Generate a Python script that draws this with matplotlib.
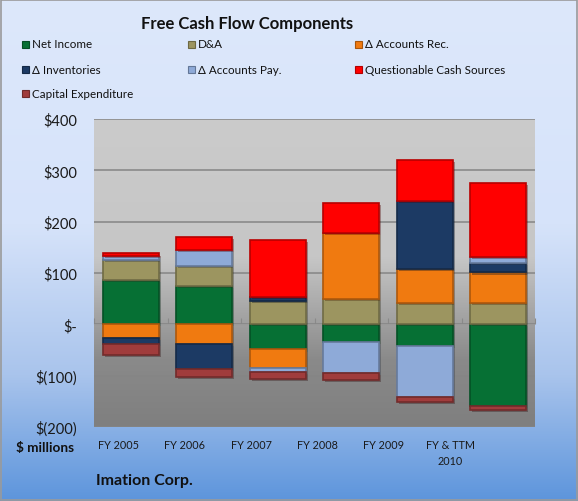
import numpy as np
import matplotlib
matplotlib.use("Agg")
import matplotlib.pyplot as plt
from matplotlib.colors import LinearSegmentedColormap, to_rgb
from matplotlib.patches import Rectangle
import matplotlib.patheffects as pe

plt.rcParams['font.family'] = ['Lato', 'DejaVu Sans']

# data ($ millions)
years = ["FY 2005", "FY 2006", "FY 2007", "FY 2008", "FY 2009", "FY & TTM\n2010"]
series = ["Net Income", "D&A", "\u0394 Accounts Rec.", "\u0394 Inventories",
          "\u0394 Accounts Pay.", "Questionable Cash Sources", "Capital Expenditure"]
net_income = [86, 75, -49, -34, -42, -159]
dna = [39, 39, 46, 49, 42, 42]
accounts_rec = [-26, -38, -36, 129, 66, 59]
inventories = [-12, -49, 7, 0, 133, 18]
accounts_pay = [9, 31, -8, -60, -99, 13]
questionable = [4, 25, 111, 59, 79, 143]
capex = [-22, -16, -14, -14, -10, -8]
colors = ["#067034", "#9c9560", "#f07a10", "#1c3a64", "#8eaad8", "#ff0000", "#a03c3c"]

values = [net_income, dna, accounts_rec, inventories, accounts_pay, questionable, capex]

fig = plt.figure(figsize=(5.78, 5.02), dpi=100)

# figure background gradient
bg = fig.add_axes([0, 0, 1, 1], zorder=-10)
bg_cmap = LinearSegmentedColormap.from_list(
    "bg", [(0, "#dde8fb"), (0.45, "#d6e3fa"), (0.75, "#a9c4ec"), (1, "#5d95dc")])
bg.imshow(np.linspace(0, 1, 256).reshape(-1, 1), aspect="auto", cmap=bg_cmap,
          extent=[0, 1, 0, 1])
bg.set_axis_off()
fig.patches.append(Rectangle((0.002, 0.002), 0.996, 0.996, transform=fig.transFigure,
                             fill=False, edgecolor="#9a9a9a", linewidth=1.2))

ax = fig.add_axes([94 / 578, 1 - 428 / 502, 441 / 578, 308 / 502])
plot_cmap = LinearSegmentedColormap.from_list(
    "plot", [(0, "#cbcbcb"), (0.45, "#c6c6c6"), (0.78, "#8a8a8a"), (1, "#7f7f7f")])
ax.imshow(np.linspace(0, 1, 256).reshape(-1, 1), aspect="auto", cmap=plot_cmap,
          extent=[0, 1, 0, 1], transform=ax.transAxes, zorder=0)

x = np.arange(len(years))
pos_bottom = np.zeros(len(years))
neg_bottom = np.zeros(len(years))
shadow = [pe.SimplePatchShadow(offset=(1.5, -1.5), alpha=0.35), pe.Normal()]
for name, vals, c in zip(series, values, colors):
    vals = np.array(vals, dtype=float)
    bottoms = np.where(vals >= 0, pos_bottom, neg_bottom)
    edge = tuple(v * 0.72 for v in to_rgb(c))
    ax.bar(x, vals, 0.76, bottom=bottoms, color=c, edgecolor=edge, linewidth=1.2,
           zorder=3, path_effects=shadow)
    pos_bottom += np.where(vals >= 0, vals, 0)
    neg_bottom += np.where(vals < 0, vals, 0)

ax.set_xlim(-0.5, len(years) - 0.5)
ax.set_ylim(-200, 400)
yt = np.arange(-200, 401, 100)
ax.set_yticks(yt)
ax.set_yticklabels(["$-" if v == 0 else (f"${v}" if v > 0 else f"$({-v})") for v in yt],
                   fontsize=10.5, color="#1a1a1a")
ax.tick_params(axis="y", length=0, pad=12)
# the category labels sit a little left of their bars, as in the original
ax.set_xticks(x * 0.903 - 0.17)
ax.set_xticklabels(years, fontsize=7.8, color="#1a1a1a", linespacing=1.55)
ax.tick_params(axis="x", length=0, pad=9)
ax.grid(axis="y", color="#858585", linewidth=1.1, zorder=1)
ax.set_axisbelow(True)
for s in ax.spines.values():
    s.set_visible(False)
ax.axhline(0, color="#9a9a9a", linewidth=0.8, zorder=2)
sec = ax.secondary_xaxis(1 / 3)
sec.set_xticks(np.arange(-0.5, len(years), 1))
sec.set_xticklabels([])
sec.tick_params(direction="in", length=4, color="#8a8a8a")
sec.spines["bottom"].set_visible(False)

fig.text(247 / 578, 1 - 24 / 502, "Free Cash Flow Components", ha="center", va="center",
         fontsize=12, fontweight="bold", color="#111111")

# legend, row-major in three columns
col_x = [22, 188, 355]
row_y = [45, 70, 94]
for i, (name, c) in enumerate(zip(series, colors)):
    cx = col_x[i % 3]
    cy = row_y[i // 3]
    edge = tuple(v * 0.7 for v in to_rgb(c))
    fig.patches.append(Rectangle((cx / 578, 1 - (cy + 4) / 502), 7 / 578, 7 / 502,
                                 transform=fig.transFigure, facecolor=c,
                                 edgecolor=edge, linewidth=0.8))
    fig.text((cx + 10) / 578, 1 - cy / 502, name, ha="left", va="center",
             fontsize=8.4, color="#111111")

fig.text(74 / 578, 1 - 448 / 502, "$ millions", ha="right", va="center",
         fontsize=9.8, fontweight="bold", color="#111111")
fig.text(96 / 578, 1 - 481 / 502, "Imation Corp.", ha="left", va="center",
         fontsize=11.5, fontweight="bold", color="#111111")

fig.savefig("out.png", dpi=100)
